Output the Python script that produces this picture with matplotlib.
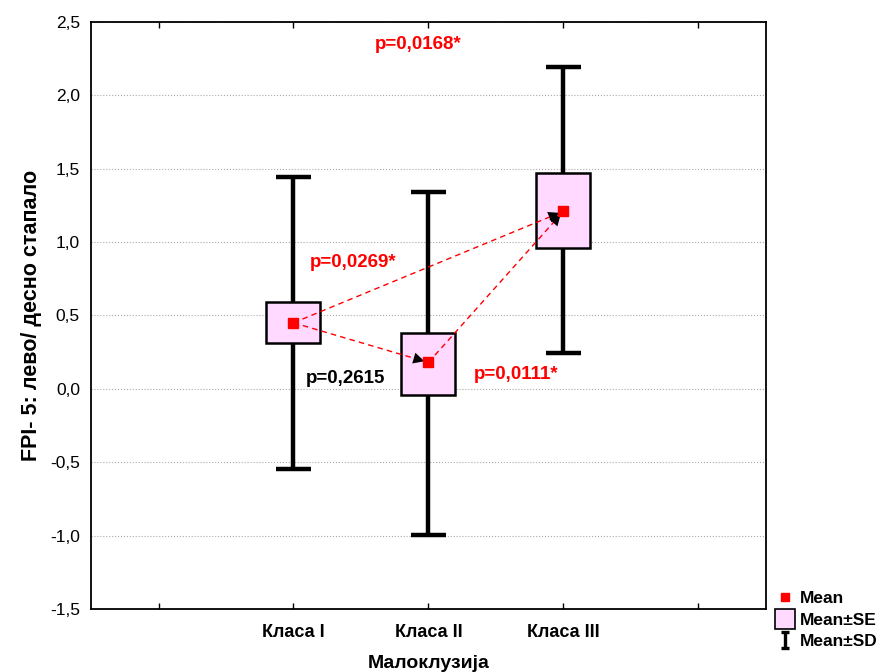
import numpy as np
import matplotlib
matplotlib.use('Agg')
from matplotlib import pyplot as plt
from matplotlib.path import Path
from matplotlib.lines import Line2D
from matplotlib.patches import Rectangle

plt.rcParams['font.family'] = ['Liberation Sans', 'DejaVu Sans']

## groups and their statistics (FPI-5)
groups    = ['Класа I', 'Класа II', 'Класа III']
mean      = [0.45, 0.18, 1.21]
se_low    = [0.31, -0.04, 0.96]
se_high   = [0.59, 0.38, 1.47]
sd_low    = [-0.545, -0.995, 0.245]
sd_high   = [1.445, 1.34, 2.19]

## pairwise comparisons: (from group, to group), text, text position, colour
pairs      = [(0, 2), (0, 1), (1, 2)]
pair_text  = ['p=0,0269*', 'p=0,2615', 'p=0,0111*']
pair_xy    = [(0.444, 0.86), (0.385, 0.07), (1.652, 0.095)]
pair_color = ['red', 'black', 'red']
overall_text = 'p=0,0168*'
overall_xy   = (0.926, 2.345)

yticks      = [-1.5, -1.0, -0.5, 0.0, 0.5, 1.0, 1.5, 2.0, 2.5]
ytick_names = ['-1,5', '-1,0', '-0,5', '0,0', '0,5', '1,0', '1,5', '2,0', '2,5']

fig = plt.figure(figsize=(8.88, 6.72), dpi=100)
ax = fig.add_axes([0.1025, 0.0938, 0.76, 0.8735])

x = np.arange(len(groups))
box_w = 0.4
cap_w = 0.26

## SD whiskers
for i in x:
    ax.plot([i, i], [sd_low[i], sd_high[i]], color='black', lw=3.2, zorder=2,
            solid_capstyle='butt')
    for yv in (sd_low[i], sd_high[i]):
        ax.plot([i - cap_w / 2, i + cap_w / 2], [yv, yv], color='black', lw=3.2,
                zorder=2, solid_capstyle='butt')
    ## SE boxes
    ax.add_patch(Rectangle((i - box_w / 2, se_low[i]), box_w, se_high[i] - se_low[i],
                           facecolor='#ffd9ff', edgecolor='black', lw=1.8, zorder=3))

## dashed comparison lines with arrowheads
for (a, b) in pairs:
    ax.plot([x[a], x[b]], [mean[a], mean[b]], color='red', ls=(0, (4, 3)), lw=1.0, zorder=4)
    start = (x[a] + 0.9 * (x[b] - x[a]), mean[a] + 0.9 * (mean[b] - mean[a]))
    ax.annotate('', xy=(x[b], mean[b]), xytext=start,
                arrowprops=dict(arrowstyle='-|>', color='black', lw=0,
                                mutation_scale=20, shrinkA=0, shrinkB=3),
                zorder=5)

ax.plot(x, mean, 's', color='red', markersize=7, zorder=6)

for txt, (tx, ty), c in zip(pair_text, pair_xy, pair_color):
    ax.text(tx, ty, txt, color=c, fontsize=13.5, fontweight='bold', ha='center', va='center')
ax.text(overall_xy[0], overall_xy[1], overall_text, color='red', fontsize=13.5,
        fontweight='bold', ha='center', va='center')

## axes appearance
ax.set_xlim(-1.5, 3.5)
ax.set_ylim(-1.5, 2.5)
ax.set_xticks(np.arange(-1, 4))
ax.set_xticklabels([''] + groups + [''], fontsize=13, fontweight='bold')
ax.tick_params(axis='x', direction='in', length=4, width=1, top=True, pad=11)
ax.set_yticks(yticks)
ax.set_yticklabels(ytick_names, fontsize=12.5)
ax.tick_params(axis='y', length=0, pad=8)
ax.yaxis.grid(True, linestyle=':', color='#aaaaaa', lw=0.8)
ax.set_axisbelow(True)
for s in ax.spines.values():
    s.set_linewidth(1.3)
ax.set_xlabel('Малоклузија', fontsize=14, fontweight='bold', labelpad=10)
ax.set_ylabel('FPI- 5: лево/ десно стапало', fontsize=15.5, fontweight='bold', labelpad=6)

## legend
ibeam = Path([(-0.5, 1), (0.5, 1), (0, 1), (0, -1), (-0.5, -1), (0.5, -1)],
             [Path.MOVETO, Path.LINETO, Path.MOVETO, Path.LINETO, Path.MOVETO, Path.LINETO])
handles = [
    Line2D([], [], marker='s', color='red', ls='none', markersize=6),
    Line2D([], [], marker='s', markerfacecolor='#ffd9ff', markeredgecolor='black',
           ls='none', markersize=14, markeredgewidth=1.2),
    Line2D([], [], marker=ibeam, color='black', ls='none', markersize=11,
           markeredgewidth=2.4),
]
fig.legend(handles, ['Mean', 'Mean±SE', 'Mean±SD'], loc='lower left',
           bbox_to_anchor=(0.862, 0.018), frameon=False, handlelength=1.0,
           handletextpad=0.4, labelspacing=0.38, borderaxespad=0.2,
           prop=dict(weight='bold', size=12.5))

fig.savefig('out.png', dpi=100)
